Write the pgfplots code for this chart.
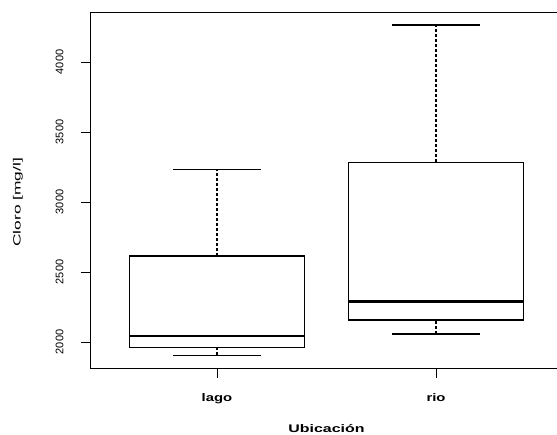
\documentclass[border=0pt]{standalone}
\usepackage{pgfplots}
\pgfplotsset{compat=1.18}
\usepackage{fontspec}
\setmainfont{Liberation Sans}
\newcommand\wide[2]{\scalebox{#1}[1]{#2}}
\begin{document}
\begin{tikzpicture}
\path[use as bounding box] (0,0) rectangle (557pt,435pt);
\begin{axis}[
  at={(90pt,66pt)}, anchor=south west,
  scale only axis, width=473pt, height=356pt,
  xmin=0.42, xmax=2.58, ymin=1807, ymax=4350,
  xtick={1,2}, xticklabels={\wide{1.35}{lago},\wide{1.35}{rio}},
  ytick={2000,2500,3000,3500,4000},
  tick align=outside, tick pos=left,
  major tick length=9pt,
  tick style={black, line width=0.9pt},
  axis line style={black, line width=1pt},
  /pgf/number format/assume math mode=true,
  /pgf/number format/1000 sep={},
  yticklabel style={rotate=90, font=\fontsize{11}{13}\selectfont},
  yticklabel shift=14pt,
  xticklabel style={font=\bfseries\fontsize{11}{13}\selectfont},
  xticklabel shift=12pt,
  xlabel={\wide{1.45}{Ubicación}},
  xlabel style={at={(axis description cs:0.5,-0.1685)}, anchor=center, font=\bfseries\fontsize{11}{13}\selectfont},
  ylabel={\wide{1.65}{Cloro [mg/l]}},
  ylabel style={at={(axis description cs:-0.1522,0.468)}, anchor=center, font=\fontsize{10.5}{12}\selectfont},
]
% lago: box, median, whiskers, caps
\addplot[black, line width=1.1pt] coordinates {(0.6,1962) (1.4,1962) (1.4,2614) (0.6,2614) (0.6,1962)};
\addplot[black, line width=2.6pt] coordinates {(0.6,2043) (1.4,2043)};
\addplot[black, line width=1.1pt, dash pattern=on 3pt off 2pt] coordinates {(1,2614) (1,3234)};
\addplot[black, line width=1.1pt, dash pattern=on 3pt off 2pt] coordinates {(1,1905) (1,1962)};
\addplot[black, line width=1.1pt] coordinates {(0.8,1905) (1.2,1905)};
\addplot[black, line width=1.1pt] coordinates {(0.8,3234) (1.2,3234)};
% rio
\addplot[black, line width=1.1pt] coordinates {(1.6,2157) (2.4,2157) (2.4,3283) (1.6,3283) (1.6,2157)};
\addplot[black, line width=2.6pt] coordinates {(1.6,2288) (2.4,2288)};
\addplot[black, line width=1.1pt, dash pattern=on 3pt off 2pt] coordinates {(2,3283) (2,4264)};
\addplot[black, line width=1.1pt, dash pattern=on 3pt off 2pt] coordinates {(2,2057) (2,2157)};
\addplot[black, line width=1.1pt] coordinates {(1.8,2057) (2.2,2057)};
\addplot[black, line width=1.1pt] coordinates {(1.8,4264) (2.2,4264)};
\end{axis}
\end{tikzpicture}
\end{document}
